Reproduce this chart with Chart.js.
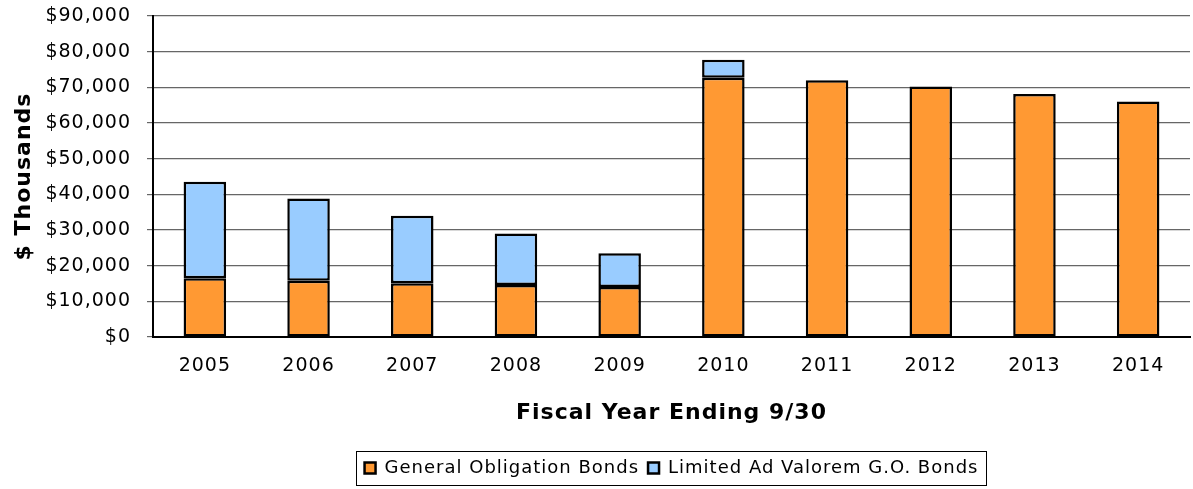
<!DOCTYPE html>
<html>
<head>
<meta charset="utf-8">
<script src="https://cdn.jsdelivr.net/npm/chart.js@4/dist/chart.umd.min.js"></script>
<style>
html,body{margin:0;padding:0;background:#fff;}
#wrap{width:1193px;height:489px;position:relative;}
</style>
</head>
<body>
<div id="wrap"><canvas id="c"></canvas></div>
<script>
const categories = ['2005','2006','2007','2008','2009','2010','2011','2012','2013','2014'];
const generalObligation = [16500, 15800, 15100, 14600, 14000, 72700, 72000, 70200, 68100, 66000];
const limitedAdValorem = [27000, 23000, 18900, 14400, 9500, 5000, 0, 0, 0, 0];
const yTicks = [0, 10000, 20000, 30000, 40000, 50000, 60000, 70000, 80000, 90000];

const FONT = '"DejaVu Sans", Verdana, sans-serif';

const spacingPlugin = {
  id: 'spacing',
  beforeUpdate(chart){ chart.ctx.letterSpacing = '1px'; },
  beforeDraw(chart){ chart.ctx.letterSpacing = '1px'; }
};

const legendBorder = {
  id: 'legendBorder',
  afterDraw(chart){
    const lg = chart.legend;
    if(!lg || !lg.legendHitBoxes || !lg.legendHitBoxes.length) return;
    const boxes = lg.legendHitBoxes;
    let l = Infinity, r = -Infinity, t = Infinity, b = -Infinity;
    boxes.forEach(h => { l = Math.min(l, h.left); r = Math.max(r, h.left + h.width); t = Math.min(t, h.top); b = Math.max(b, h.top + h.height); });
    const ctx = chart.ctx;
    ctx.save();
    ctx.strokeStyle = '#000';
    ctx.lineWidth = 1;
    ctx.strokeRect(Math.round(l - 9) + 0.5, Math.round(t - 8) + 0.5, Math.round(r - l + 16), Math.round(b - t + 16));
    ctx.restore();
  }
};

new Chart(document.getElementById('c'), {
  type: 'bar',
  data: {
    labels: categories,
    datasets: [
      { label: 'General Obligation Bonds', data: generalObligation, backgroundColor: '#FF9933', borderColor: '#000', borderWidth: 2.5, borderSkipped: false, categoryPercentage: 1, barPercentage: 0.41 },
      { label: 'Limited Ad Valorem G.O. Bonds', data: limitedAdValorem, backgroundColor: '#99CCFF', borderColor: '#000', borderWidth: 2.5, borderSkipped: false, categoryPercentage: 1, barPercentage: 0.41 }
    ]
  },
  options: {
    responsive: true,
    maintainAspectRatio: false,
    animation: false,
    layout: { padding: { top: 16, right: 3, left: 0, bottom: 2 } },
    plugins: {
      legend: {
        position: 'bottom',
        fullSize: false,
        labels: { font: { family: FONT, size: 18 }, color: '#000', boxWidth: 11, boxHeight: 11, padding: 9 }
      },
      tooltip: { enabled: false }
    },
    scales: {
      x: {
        stacked: true,
        afterFit(scale){ scale.height = 113; },
        grid: { display: false, drawTicks: false },
        border: { color: '#000', width: 2 },
        ticks: { font: { family: FONT, size: 19 }, color: '#000', padding: 18 },
        title: { display: true, text: 'Fiscal Year Ending 9/30', font: { family: FONT, size: 22, weight: 'bold' }, color: '#000', padding: { top: 0, bottom: 24 } }
      },
      y: {
        stacked: true,
        min: 0, max: 90000,
        afterBuildTicks(scale){ scale.ticks = yTicks.map(v => ({ value: v })); },
        afterFit(scale){ scale.width = 153; scale.paddingTop = 0; scale.paddingBottom = 0; },
        grid: { color: '#666', lineWidth: 1.2, tickLength: 6, tickColor: '#666' },
        border: { color: '#000', width: 2 },
        ticks: { font: { family: FONT, size: 19 }, color: '#000', padding: 16, callback: v => '$' + Number(v).toLocaleString('en-US') },
        title: { display: true, text: '$ Thousands', font: { family: FONT, size: 22, weight: 'bold' }, color: '#000', padding: { top: 11, bottom: 0 } }
      }
    }
  },
  plugins: [spacingPlugin, legendBorder]
});
</script>
</body>
</html>
